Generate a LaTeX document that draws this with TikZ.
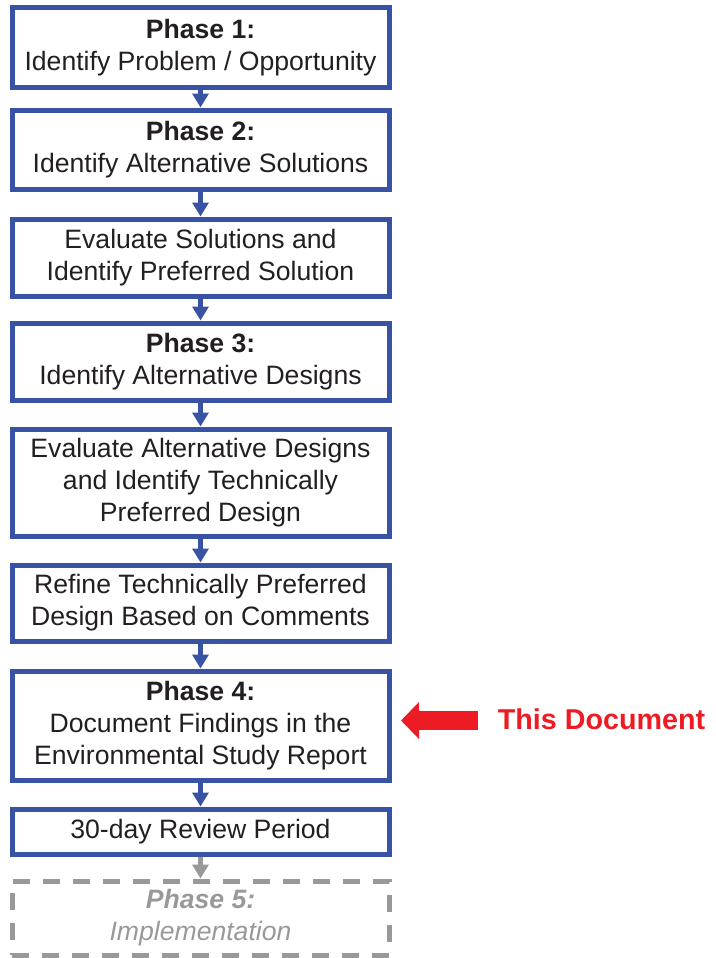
\documentclass[tikz,border=0pt]{standalone}
\usepackage{fontspec}
\setmainfont{Liberation Sans}
\usetikzlibrary{arrows.meta}
\definecolor{pblue}{HTML}{3953A4}
\definecolor{ptext}{HTML}{231F20}
\definecolor{pred}{HTML}{ED1C24}
\definecolor{pgray}{HTML}{98999B}
\tikzset{
  phasebox/.style={draw=pblue, line width=5pt, minimum width=377pt, inner sep=0pt,
    align=center, text=ptext, font=\fontsize{26.6}{32}\selectfont},
  futurebox/.style={draw=pgray, line width=5pt, dash pattern=on 17pt off 13pt,
    minimum width=377pt, inner sep=0pt, align=center, text=pgray,
    font=\fontsize{26.6}{32}\selectfont\itshape},
  flow/.style={draw=pblue, line width=5pt, -{Triangle[width=16pt,length=14pt]}},
  futureflow/.style={draw=pgray, line width=5pt, -{Triangle[width=16pt,length=14pt]}},
}
\begin{document}
\begin{tikzpicture}[x=1pt,y=-1pt]
\useasboundingbox (0,0) rectangle (715,958);
\node[phasebox, minimum height=79.5pt] (p1) at (200.5,47.25) {\textbf{Phase 1:}\\Identify Problem / Opportunity};
\node[phasebox, minimum height=79pt] (p2) at (200.5,149.5) {\textbf{Phase 2:}\\Identify Alternative Solutions};
\node[phasebox, minimum height=77pt] (p3) at (200.5,257.5) {Evaluate Solutions and\\Identify Preferred Solution};
\node[phasebox, minimum height=77pt] (p4) at (200.5,361.5) {\textbf{Phase 3:}\\Identify Alternative Designs};
\node[phasebox, minimum height=107pt] (p5) at (200.5,482.5) {Evaluate Alternative Designs\\and Identify Technically\\Preferred Design};
\node[phasebox, minimum height=76pt] (p6) at (200.5,603) {Refine Technically Preferred\\Design Based on Comments};
\node[phasebox, minimum height=109pt] (p7) at (200.5,725.5) {\textbf{Phase 4:}\\Document Findings in the\\Environmental Study Report};
\node[phasebox, minimum height=45pt] (p8) at (200.5,831.5) {30-day Review Period};
\node[futurebox, minimum height=74pt] (p9) at (200.5,918) {\textbf{Phase 5:}\\Implementation};

\draw[flow] (p1.south) -- (p2.north);
\draw[flow] (p2.south) -- (p3.north);
\draw[flow] (p3.south) -- (p4.north);
\draw[flow] (p4.south) -- (p5.north);
\draw[flow] (p5.south) -- (p6.north);
\draw[flow] (p6.south) -- (p7.north);
\draw[flow] (p7.south) -- (p8.north);
\draw[futureflow] (p8.south) -- (p9.north);

\node[text=pred, font=\fontsize{28.7}{34}\selectfont\bfseries, inner sep=0pt] (doc) at (601.5,719) {This Document};
\coordinate (redtail) at (478,720.5);
\coordinate (redtip) at (401,720.5);
\draw[draw=pred, line width=19pt, -{Triangle[width=36pt,length=18pt]}] (redtail) -- (redtip);
\end{tikzpicture}
\end{document}
